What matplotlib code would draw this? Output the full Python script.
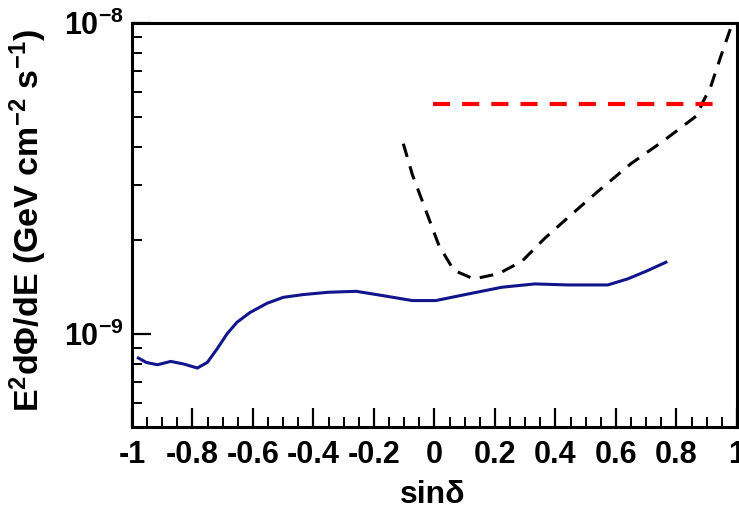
import matplotlib
matplotlib.use('Agg')
import matplotlib.pyplot as plt
from matplotlib.ticker import MultipleLocator, LogLocator, NullFormatter, FixedLocator
import numpy as np

plt.rcParams['font.family'] = ['Liberation Sans', 'DejaVu Sans']
plt.rcParams['font.weight'] = 'bold'
plt.rcParams['mathtext.fontset'] = 'custom'
plt.rcParams['mathtext.rm'] = 'Liberation Sans:bold'
plt.rcParams['mathtext.bf'] = 'Liberation Sans:bold'
plt.rcParams['mathtext.default'] = 'rm'

# blue sensitivity curve
sens_x = [-0.979, -0.953, -0.916, -0.872, -0.828, -0.784, -0.751, -0.719, -0.686,
          -0.653, -0.609, -0.554, -0.500, -0.434, -0.352, -0.259, -0.171, -0.073,
          0.004, 0.113, 0.223, 0.332, 0.442, 0.573, 0.639, 0.704, 0.765]
sens_y = [8.35e-10, 8.08e-10, 7.94e-10, 8.14e-10, 7.98e-10, 7.75e-10, 8.08e-10,
          8.92e-10, 9.98e-10, 1.088e-9, 1.171e-9, 1.252e-9, 1.309e-9, 1.336e-9,
          1.359e-9, 1.369e-9, 1.326e-9, 1.278e-9, 1.278e-9, 1.343e-9, 1.411e-9,
          1.446e-9, 1.435e-9, 1.435e-9, 1.501e-9, 1.595e-9, 1.698e-9]

# black dashed curve
dash_x = [-0.103, -0.073, -0.040, -0.007, 0.015, 0.064, 0.130, 0.212, 0.289, 0.365,
          0.453, 0.540, 0.650, 0.759, 0.869, 0.885, 0.913, 0.946, 0.979]
dash_y = [4.09e-9, 3.25e-9, 2.67e-9, 2.19e-9, 1.92e-9, 1.60e-9, 1.50e-9, 1.56e-9,
          1.71e-9, 2.03e-9, 2.42e-9, 2.87e-9, 3.53e-9, 4.19e-9, 5.05e-9, 5.51e-9,
          6.23e-9, 7.78e-9, 9.62e-9]

# red dashed level
red_x = [-0.005, 0.944]
red_y = [5.51e-9, 5.51e-9]

xticks = [-1, -0.8, -0.6, -0.4, -0.2, 0, 0.2, 0.4, 0.6, 0.8, 1]
xticklabels = ['-1', '-0.8', '-0.6', '-0.4', '-0.2', '0', '0.2', '0.4', '0.6', '0.8', '1']

fig = plt.figure(figsize=(7.39, 5.14), dpi=100)
ax = fig.add_axes([0.1786, 0.169, 0.8186, 0.786])

ax.plot(sens_x, sens_y, color='#10158a', linewidth=2.2)
ax.plot(dash_x, dash_y, color='black', linewidth=2.2, linestyle=(0, (4.5, 3.2)))
ax.plot(red_x, red_y, color='#ff0000', linewidth=3.0, linestyle=(0, (4.1, 2.9)))

ax.set_yscale('log')
ax.set_xlim(-1, 1)
ax.set_ylim(5e-10, 1e-8)

ax.set_xticks(xticks)
ax.set_xticklabels(xticklabels)
ax.xaxis.set_minor_locator(MultipleLocator(0.05))
ax.yaxis.set_major_locator(FixedLocator([1e-9, 1e-8]))
ax.set_yticklabels([r'$10^{-9}$', r'$10^{-8}$'])
ax.yaxis.set_minor_locator(LogLocator(base=10, subs=np.arange(2, 10)))
ax.yaxis.set_minor_formatter(NullFormatter())

for s in ax.spines.values():
    s.set_linewidth(2.2)

ax.tick_params(which='major', direction='in', length=14, width=1.6,
               labelsize=22, top=False, right=False)
ax.tick_params(which='minor', direction='in', length=7.5, width=1.4,
               top=False, right=False)
ax.tick_params(axis='x', which='major', pad=9)
ax.tick_params(axis='y', which='major', pad=6)

fig.text(0.038, 0.57, r'E$^2$d$\Phi$/dE (GeV cm$^{-2}$ s$^{-1}$)', rotation=90,
         ha='center', va='center', fontsize=24.5, fontweight='bold')
fig.text(0.585, 0.037, 'sinδ', ha='center', va='center', fontsize=23)

plt.savefig('out.png', dpi=100)
